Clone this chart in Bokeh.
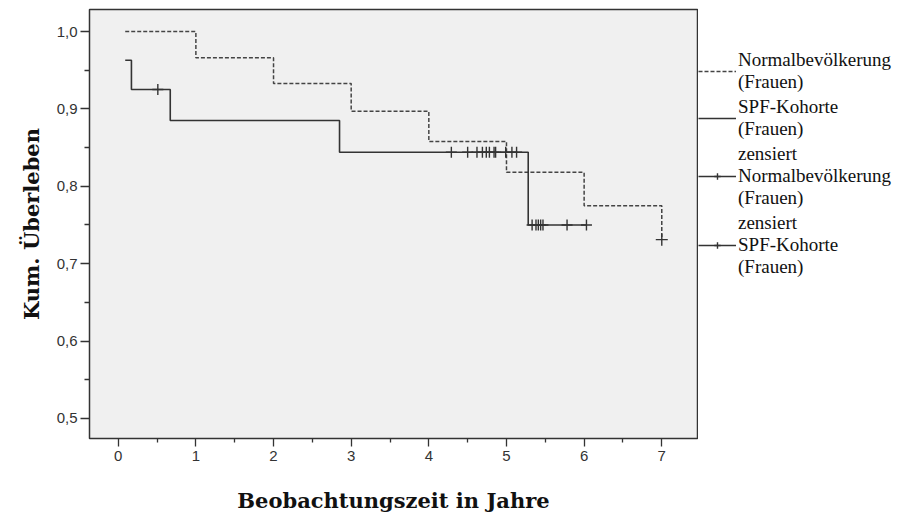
from bokeh.plotting import figure
from bokeh.layouts import row
from bokeh.models import (Range1d, FixedTicker, CustomJSTickFormatter, Legend, LegendItem)
from bokeh.embed import file_html
from bokeh.resources import INLINE

# --- data ---
norm_time = [0.09, 1.0, 2.0, 3.0, 4.0, 5.0, 6.0, 7.0]
norm_surv = [1.0, 0.966, 0.933, 0.897, 0.858, 0.818, 0.775, 0.731]
norm_cens_time = [7.0]
norm_cens_surv = [0.731]

spf_time = [0.09, 0.17, 0.67, 2.85, 5.28, 6.03]
spf_surv = [0.963, 0.925, 0.885, 0.844, 0.750, 0.750]
spf_cens_time = [0.51, 4.29, 4.50, 4.62, 4.69, 4.74, 4.78, 4.84, 4.86, 4.99, 5.07, 5.13,
                 5.33, 5.38, 5.41, 5.44, 5.47, 5.78, 6.03]
spf_cens_surv = [0.925] + [0.844] * 11 + [0.750] * 7

x_ticks = [0, 1, 2, 3, 4, 5, 6, 7]
x_minor = [0.5, 1.5, 2.5, 3.5, 4.5, 5.5, 6.5]
y_ticks = [0.5, 0.6, 0.7, 0.8, 0.9, 1.0]
y_minor = [0.55, 0.65, 0.75, 0.85, 0.95]

labels = ["Normalbevölkerung\n(Frauen)", "SPF-Kohorte\n(Frauen)",
          "zensiert\nNormalbevölkerung\n(Frauen)", "zensiert\nSPF-Kohorte\n(Frauen)"]

NORM_STYLE = dict(line_color="#444444", line_width=1.5, line_dash="4 2")
SPF_STYLE = dict(line_color="#333333", line_width=1.6)
CENS_STYLE = dict(marker="cross", line_color="#333333", line_width=1.4)

p = figure(width=698, height=518, output_backend="svg", toolbar_location=None,
           x_range=Range1d(-0.37, 7.46), y_range=Range1d(0.474, 1.0285),
           min_border_left=89, min_border_right=1, min_border_top=9, min_border_bottom=80)
p.border_fill_color = "white"
p.background_fill_color = "#f0f0f0"
p.outline_line_color = "#333333"
p.outline_line_width = 1.5
p.grid.visible = False

p.step(norm_time, norm_surv, mode="after", **NORM_STYLE)
p.step(spf_time, spf_surv, mode="after", **SPF_STYLE)
p.scatter(norm_cens_time, norm_cens_surv, size=12, **CENS_STYLE)
p.scatter(spf_cens_time, spf_cens_surv, size=11, **CENS_STYLE)

for ax in (p.xaxis[0], p.yaxis[0]):
    ax.axis_line_color = None
    ax.major_tick_line_color = "#333333"
    ax.minor_tick_line_color = "#333333"
    ax.major_tick_line_width = 1.3
    ax.minor_tick_line_width = 1.3
    ax.major_tick_in = 0
    ax.minor_tick_in = 0
    ax.major_label_text_font = "Liberation Sans"
    ax.major_label_text_font_size = "15px"
    ax.major_label_text_color = "#333333"
    ax.axis_label_text_font = "DejaVu Serif"
    ax.axis_label_text_font_style = "bold"
    ax.axis_label_text_font_size = "21px"
    ax.axis_label_text_color = "#111111"

p.xaxis.ticker = FixedTicker(ticks=x_ticks, minor_ticks=x_minor)
p.yaxis.ticker = FixedTicker(ticks=y_ticks, minor_ticks=y_minor)
p.xaxis.major_tick_out = 8
p.xaxis.minor_tick_out = 4
p.yaxis.major_tick_out = 9
p.yaxis.minor_tick_out = 5
p.yaxis.formatter = CustomJSTickFormatter(code="return tick.toFixed(1).replace('.', ',');")
p.xaxis.formatter = CustomJSTickFormatter(code="return tick.toFixed(0);")
p.xaxis.axis_label = "Beobachtungszeit in Jahre"
p.yaxis.axis_label = "Kum. Überleben"
p.xaxis.major_label_standoff = 4
p.yaxis.major_label_standoff = 3
p.xaxis.axis_label_standoff = 24
p.yaxis.axis_label_standoff = 10

# --- legend panel to the right of the plot frame ---
q = figure(width=208, height=518, output_backend="svg", toolbar_location=None,
           x_range=Range1d(100, 101), y_range=Range1d(100, 101),
           min_border=0, min_border_left=0, min_border_right=0,
           min_border_top=0, min_border_bottom=0)
q.axis.visible = False
q.grid.visible = False
q.outline_line_color = None
q.background_fill_color = "white"
q.border_fill_color = "white"

l_norm = q.step(norm_time, norm_surv, mode="after", **NORM_STYLE)
l_spf = q.step(spf_time, spf_surv, mode="after", **SPF_STYLE)
l_cn = q.scatter(norm_cens_time, norm_cens_surv, size=12, **CENS_STYLE)
l_cs = q.scatter(spf_cens_time, spf_cens_surv, size=12, **CENS_STYLE)

legend = Legend(items=[
    LegendItem(label=labels[0], renderers=[l_norm]),
    LegendItem(label=labels[1], renderers=[l_spf]),
    LegendItem(label=labels[2], renderers=[l_spf, l_cn]),
    LegendItem(label=labels[3], renderers=[l_spf, l_cs]),
], location=(0, 160))
legend.label_text_font = "Liberation Serif"
legend.label_text_font_size = "19px"
legend.label_text_color = "#111111"
legend.glyph_width = 38
legend.glyph_height = 16
legend.label_standoff = 2
legend.spacing = 3
legend.padding = 0
legend.margin = 0
legend.border_line_color = None
legend.background_fill_alpha = 0
q.add_layout(legend, "center")

layout = row(p, q, spacing=0)
open("out.html", "w").write(file_html(layout, INLINE))
